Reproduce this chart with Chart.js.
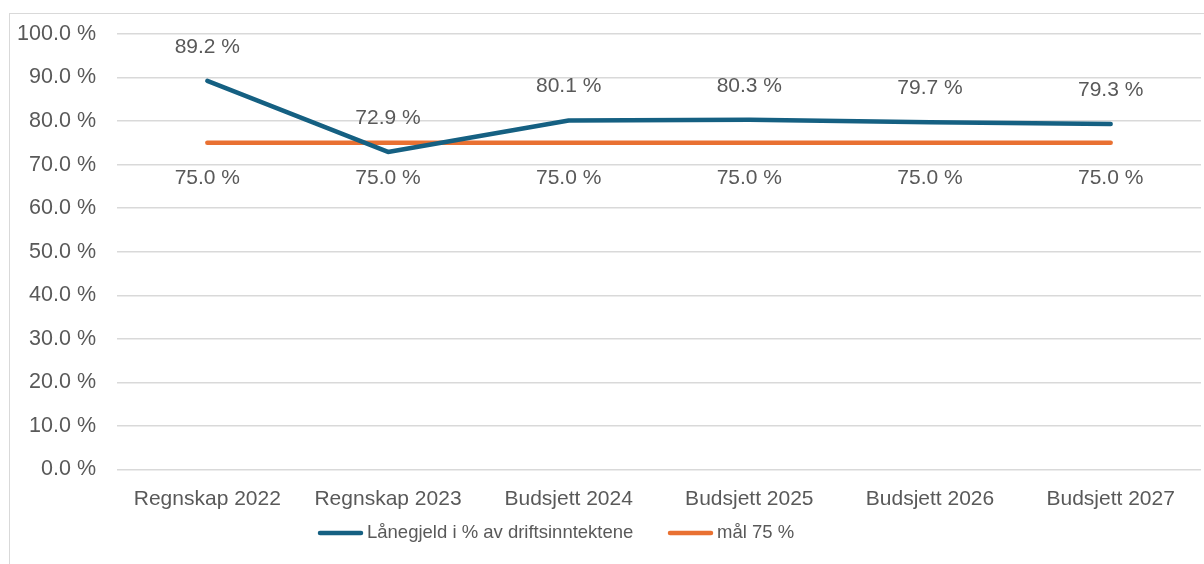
<!DOCTYPE html>
<html lang="no">
<head>
<meta charset="utf-8">
<title>Lånegjeld i % av driftsinntektene</title>
<script src="https://cdn.jsdelivr.net/npm/chart.js@4.4.1/dist/chart.umd.min.js"></script>
<style>
  html, body { margin: 0; padding: 0; background: #ffffff; overflow: hidden; }
  #wrap { position: relative; width: 1204px; height: 564px; }
  #frame { position: absolute; left: 9px; top: 13px; width: 1400px; height: 800px;
           border: 1px solid #d9d9d9; box-sizing: border-box; }
  #c { position: absolute; left: 0; top: 0; }
</style>
</head>
<body>
<div id="wrap">
  <div id="frame"></div>
  <canvas id="c" width="1204" height="564"></canvas>
</div>
<script>
// Kategorier og verdier
const categories = ['Regnskap 2022', 'Regnskap 2023', 'Budsjett 2024', 'Budsjett 2025', 'Budsjett 2026', 'Budsjett 2027'];
const laanegjeld = [89.2, 72.9, 80.1, 80.3, 79.7, 79.3];
const maal = [75.0, 75.0, 75.0, 75.0, 75.0, 75.0];
const yTicks = [0, 10, 20, 30, 40, 50, 60, 70, 80, 90, 100];

const FONT = "'Liberation Sans', Arial, sans-serif";
const TEXT = '#595959';

const fmt = v => v.toFixed(1) + ' %';

// Verdietiketter over (lånegjeld) og under (mål) linjene
const valueLabels = {
  id: 'valueLabels',
  afterDatasetsDraw(chart) {
    const ctx = chart.ctx;
    ctx.save();
    ctx.font = '21px ' + FONT;
    ctx.fillStyle = TEXT;
    ctx.textAlign = 'center';
    ctx.textBaseline = 'middle';
    chart.data.datasets.forEach((ds, i) => {
      const meta = chart.getDatasetMeta(i);
      const off = ds.labelOffset;
      meta.data.forEach((pt, j) => {
        ctx.fillText(fmt(ds.data[j]), pt.x, pt.y + off);
      });
    });
    ctx.restore();
  }
};

// Tegnforklaring under x-aksen: linjestykke + tekst for hver serie
const lineLegend = {
  id: 'lineLegend',
  afterDraw(chart) {
    const ctx = chart.ctx;
    const y = 533;
    const lineLen = 45, textGap = 4;
    const starts = [318, 668];
    ctx.save();
    ctx.font = '18.5px ' + FONT;
    ctx.textBaseline = 'middle';
    ctx.textAlign = 'left';
    chart.data.datasets.forEach((ds, i) => {
      const x = starts[i];
      ctx.strokeStyle = ds.borderColor;
      ctx.lineWidth = 4.5;
      ctx.lineCap = 'round';
      ctx.beginPath();
      ctx.moveTo(x + 2, y);
      ctx.lineTo(x + lineLen - 2, y);
      ctx.stroke();
      ctx.fillStyle = TEXT;
      ctx.fillText(ds.label, x + lineLen + textGap, y);
    });
    ctx.restore();
  }
};

new Chart(document.getElementById('c'), {
  type: 'line',
  data: {
    labels: categories,
    datasets: [
      {
        label: 'Lånegjeld i % av driftsinntektene',
        data: laanegjeld,
        borderColor: '#156082',
        backgroundColor: '#156082',
        borderWidth: 4.5,
        pointRadius: 0,
        borderCapStyle: 'round',
        borderJoinStyle: 'round',
        tension: 0,
        labelOffset: -34
      },
      {
        label: 'mål 75 %',
        data: maal,
        borderColor: '#E97132',
        backgroundColor: '#E97132',
        borderWidth: 4.5,
        pointRadius: 0,
        borderCapStyle: 'round',
        tension: 0,
        labelOffset: 35
      }
    ]
  },
  options: {
    responsive: false,
    animation: false,
    layout: { padding: { top: 28.5, right: 3, left: 0, bottom: 46.5 } },
    plugins: {
      tooltip: { enabled: false },
      legend: { display: false }
    },
    scales: {
      x: {
        offset: true,
        grid: { display: false, drawTicks: false, offset: true },
        border: { display: false },
        ticks: { font: { family: FONT, size: 21 }, color: TEXT, padding: 17 },
        afterFit(s) { s.height = 48; }
      },
      y: {
        min: 0,
        max: 100,
        afterBuildTicks(s) { s.ticks = yTicks.map(v => ({ value: v })); },
        grid: { color: '#d9d9d9', lineWidth: 1.5, drawTicks: false },
        border: { display: false },
        ticks: {
          font: { family: FONT, size: 21.5 },
          color: TEXT,
          padding: 21,
          callback: v => fmt(v)
        },
        afterFit(s) { s.width = 117; }
      }
    }
  },
  plugins: [valueLabels, lineLegend]
});
</script>
</body>
</html>
